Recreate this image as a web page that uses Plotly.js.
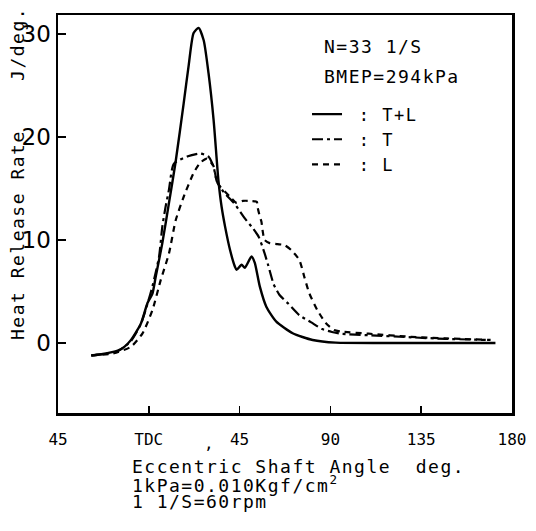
<!DOCTYPE html>
<html>
<head>
<meta charset="utf-8">
<script src="https://cdn.plot.ly/plotly-3.0.1.min.js"></script>
<style>
html,body{margin:0;padding:0;background:#fff;}
.annotation-text { letter-spacing: 1.5px; }
.legendtext { letter-spacing: 1.5px; }
</style>
</head>
<body>
<div id="chart" style="width:536px;height:531px;"></div>
<script>
// Eccentric shaft angle (deg, 0 = TDC) and heat release rate (J/deg)
const angleTL = [-28.5, -23.5, -15.4, -12, -8.8, -3.9, -0.6, 1.8, 3.4, 6.7, 10, 13.3, 17.3, 19.8, 22.2, 24.7, 27.2, 29.6, 32.1, 34.5, 36.1, 37.8, 40.3, 42.7, 43.5, 46, 47.6, 50.9, 52.5, 55, 58.3, 63.2, 71.3, 81.2, 92.6, 130, 171.8];
const hrrTL   = [-1.23, -1.1, -0.75, -0.35, 0.3, 1.9, 3.9, 4.8, 6.4, 9.7, 13.6, 17.6, 23.3, 27.0, 30.1, 30.6, 29.4, 26.2, 21.7, 15.8, 13.2, 11.3, 9.0, 7.4, 7.1, 7.6, 7.3, 8.4, 7.8, 5.5, 3.5, 2.07, 0.94, 0.29, 0.03, 0, 0];

const angleT = [-28.5, -15.4, -8.8, -3.9, -0.6, 1.8, 5.1, 6.7, 8.3, 10, 12.4, 19, 25.5, 29.6, 32.1, 33.7, 37.3, 42.2, 47.6, 51.7, 54.5, 57.4, 59.1, 61.9, 64.8, 69.2, 74.6, 80.5, 85.9, 90.8, 95, 109, 130, 147, 167];
const hrrT   = [-1.2, -0.8, 0.2, 1.85, 3.85, 5.5, 8.4, 11.3, 13.2, 14.9, 17.4, 18.1, 18.4, 18.1, 17.1, 15.7, 14.6, 13.6, 12.1, 11.1, 10.3, 8.7, 7.6, 5.7, 4.66, 3.8, 2.7, 2.0, 1.36, 1.07, 0.9, 0.75, 0.55, 0.4, 0.3];

const angleL = [-28.5, -17.2, -8.8, -3.1, 1.8, 5.9, 10, 13.3, 17.3, 22.2, 25.5, 28.8, 32, 33.7, 35.3, 40.3, 43.5, 46.6, 50, 53.5, 54, 55, 55.8, 56.5, 57.4, 59.9, 63.8, 67.3, 70.7, 74.6, 77.1, 79.5, 83.5, 87.7, 91.8, 95.7, 109, 130, 146.6, 169.4];
const hrrL   = [-1.2, -1.0, -0.36, 0.94, 3.2, 6.1, 8.7, 11.9, 14.2, 16.5, 17.5, 17.9, 17.2, 15.7, 15.2, 14.2, 13.6, 13.8, 13.8, 13.7, 13.1, 12.3, 11.8, 10.8, 10.0, 9.7, 9.6, 9.5, 9.0, 8.06, 6.4, 4.85, 3.2, 1.94, 1.26, 1.1, 0.9, 0.6, 0.45, 0.3];

const xTickVals = [-45, 0, 45, 90, 135, 180];
const xTickText = ["45", "TDC", "45", "90", "135", "180"];
const yTickVals = [0, 10, 20, 30];

const seriesNames = ["\u00a0: T+L", "\u00a0: T", "\u00a0: L"];

const mono = "DejaVu Sans Mono, monospace";

const traces = [
  {x: angleTL, y: hrrTL, name: seriesNames[0], mode: "lines",
   line: {color: "#000", width: 2.4, shape: "spline", smoothing: 0.6}},
  {x: angleT, y: hrrT, name: seriesNames[1], mode: "lines",
   line: {color: "#000", width: 2.2, dash: "11px,4px,3px,4px", shape: "spline", smoothing: 0.6}},
  {x: angleL, y: hrrL, name: seriesNames[2], mode: "lines",
   line: {color: "#000", width: 2.2, dash: "6px,5px", shape: "spline", smoothing: 0.6}}
];

const layout = {
  width: 536, height: 531,
  margin: {l: 58, r: 24, t: 15, b: 118, pad: 0},
  paper_bgcolor: "#fff", plot_bgcolor: "#fff",
  showlegend: true,
  legend: {x: 0.5485, y: 0.795, xanchor: "left", yanchor: "top",
           bgcolor: "rgba(0,0,0,0)", borderwidth: 0, itemwidth: 30,
           font: {family: mono, size: 17, color: "#000"}},
  xaxis: {range: [-45, 180], tickvals: xTickVals, ticktext: xTickText,
          ticks: "inside", ticklen: 7, tickwidth: 1.5, tickcolor: "#000",
          showline: true, mirror: true, linewidth: 2.5, linecolor: "#000",
          showgrid: false, zeroline: false, ticklabelstandoff: 10,
          tickfont: {family: mono, size: 16, color: "#000"}},
  yaxis: {range: [-6.8, 31.85], tickvals: yTickVals,
          ticks: "inside", ticklen: 8, tickwidth: 1.5, tickcolor: "#000",
          showline: true, mirror: true, linewidth: 2.5, linecolor: "#000",
          showgrid: false, zeroline: false,
          tickfont: {family: "DejaVu Sans, sans-serif", size: 23, color: "#000"}},
  annotations: [
    {xref: "paper", yref: "paper", x: 0.1586, y: -0.1332, xanchor: "left", yanchor: "middle",
     text: "Eccentric Shaft Angle  deg.", showarrow: false, font: {family: mono, size: 18, color: "#000"}},
    {xref: "paper", yref: "paper", x: 0.1586, y: -0.1784, xanchor: "left", yanchor: "middle",
     text: "1kPa=0.010Kgf/cm<sup>2</sup>", showarrow: false, font: {family: mono, size: 18, color: "#000"}},
    {xref: "paper", yref: "paper", x: 0.1586, y: -0.2236, xanchor: "left", yanchor: "middle",
     text: "1 1/S=60rpm", showarrow: false, font: {family: mono, size: 18, color: "#000"}},
    {xref: "paper", yref: "paper", x: -0.0903, y: 0.6005, xanchor: "center", yanchor: "middle",
     textangle: -90, text: "Heat Release Rate    J/deg.", showarrow: false,
     font: {family: mono, size: 18, color: "#000"}},
    {xref: "paper", yref: "paper", x: 0.5815, y: 0.9196, xanchor: "left", yanchor: "middle",
     text: "N=33 1/S", showarrow: false, font: {family: mono, size: 18, color: "#000"}},
    {xref: "paper", yref: "paper", x: 0.5815, y: 0.8467, xanchor: "left", yanchor: "middle",
     text: "BMEP=294kPa", showarrow: false, font: {family: mono, size: 18, color: "#000"}},
    {xref: "paper", yref: "paper", x: 0.3348, y: -0.0754, xanchor: "center", yanchor: "middle",
     text: ",", showarrow: false, font: {family: mono, size: 16, color: "#000"}}
  ]
};

Plotly.newPlot("chart", traces, layout, {displayModeBar: false, staticPlot: true});
</script>
</body>
</html>
